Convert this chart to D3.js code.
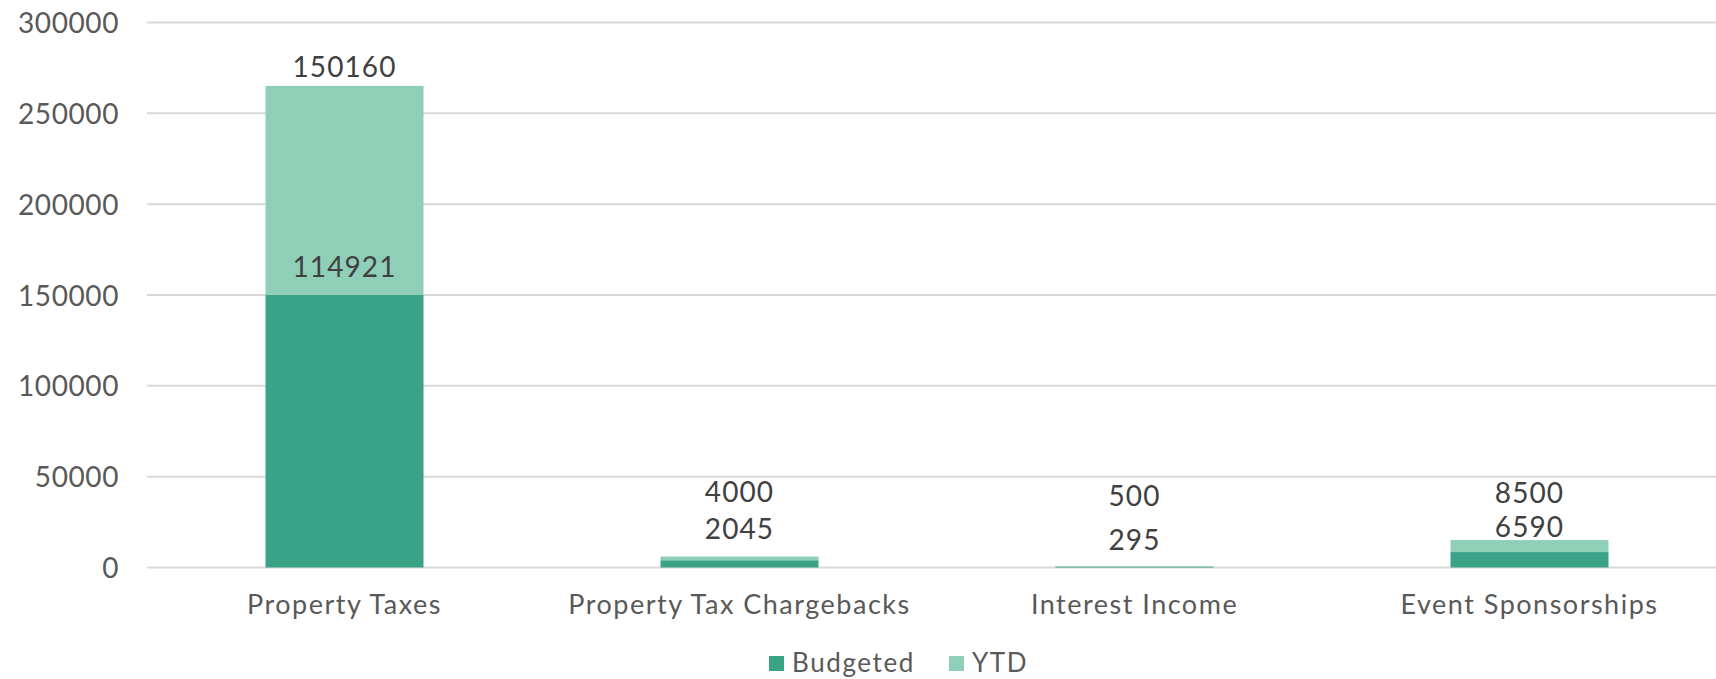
<!DOCTYPE html>
<html>
<head>
<meta charset="utf-8">
<script src="https://cdn.jsdelivr.net/npm/d3@7"></script>
<style>
  html, body { margin: 0; padding: 0; background: #fff; }
  svg { display: block; }
  text { font-family: Lato, "Open Sans", sans-serif; }
</style>
</head>
<body>
<svg id="chart" width="1716" height="679"></svg>
<script>
// ---- data ----
const categories = ["Property Taxes", "Property Tax Chargebacks", "Interest Income", "Event Sponsorships"];
const budgeted = [150160, 4000, 500, 8500];
const ytd = [114921, 2045, 295, 6590];
const seriesNames = ["Budgeted", "YTD"];
const yTicks = [0, 50000, 100000, 150000, 200000, 250000, 300000];

// label placement offsets (px) — layout only
const budLabelDy = [-8.6, -54.8, -60, -36.8];   // relative to stack top
const ytdLabelDy = [-18, -20.9, -16.6, -15.4];  // relative to budgeted top

const colors = { Budgeted: "#3aa385", YTD: "#8fcfb7" };

const svg = d3.select("#chart");
const plotLeft = 147, plotRight = 1727, plotTop = 22.5, plotBottom = 567.5;

const x = d3.scaleBand().domain(categories).range([plotLeft, plotRight]).paddingInner(0.6).paddingOuter(0.3);
const y = d3.scaleLinear().domain([0, 300000]).range([plotBottom, plotTop]);

// gridlines
svg.append("g").selectAll("line").data(yTicks).join("line")
  .attr("x1", plotLeft).attr("x2", plotRight)
  .attr("y1", d => y(d)).attr("y2", d => y(d))
  .attr("stroke", "#d9d9d9").attr("stroke-width", 2);

// y axis labels
const yAxis = d3.axisLeft(y).tickValues(yTicks).tickFormat(d3.format("d")).tickSize(0).tickPadding(0);
const ga = svg.append("g").attr("transform", `translate(119,0)`).call(yAxis);
ga.select(".domain").remove();
ga.selectAll("text").attr("font-family", "Lato, sans-serif").attr("font-size", 28)
  .attr("letter-spacing", 0.6)
  .attr("fill", "#595959").attr("dy", "0.36em");

// stacked data
const rows = categories.map((c, i) => ({ cat: c, Budgeted: budgeted[i], YTD: ytd[i] }));
const stack = d3.stack().keys(seriesNames)(rows);

svg.append("g").selectAll("g").data(stack).join("g")
  .attr("fill", d => colors[d.key])
  .selectAll("rect").data(d => d).join("rect")
  .attr("x", d => x(d.data.cat))
  .attr("width", x.bandwidth())
  .attr("y", d => y(d[1]))
  .attr("height", d => y(d[0]) - y(d[1]));

// data labels
const lab = svg.append("g").attr("font-size", 28).attr("fill", "#404040")
  .attr("text-anchor", "middle").attr("letter-spacing", 1.1);
categories.forEach((c, i) => {
  const cx = x(c) + x.bandwidth() / 2;
  lab.append("text").attr("x", cx).attr("y", y(budgeted[i] + ytd[i]) + budLabelDy[i]).text(budgeted[i]);
  lab.append("text").attr("x", cx).attr("y", y(budgeted[i]) + ytdLabelDy[i]).text(ytd[i]);
});

// x axis labels
const xAxis = d3.axisBottom(x).tickSize(0).tickPadding(0);
const gx = svg.append("g").attr("transform", `translate(0,${plotBottom})`).call(xAxis);
gx.select(".domain").remove();
gx.selectAll("text").attr("font-family", "Lato, sans-serif").attr("font-size", 27)
  .attr("letter-spacing", 1.5)
  .attr("fill", "#595959").attr("dy", null).attr("y", 46);

// legend
const legend = svg.append("g").attr("font-size", 26).attr("fill", "#595959").attr("letter-spacing", 1.6);
const legX = [769, 949];
seriesNames.forEach((s, i) => {
  legend.append("rect").attr("x", legX[i]).attr("y", 656).attr("width", 15).attr("height", 15).attr("fill", colors[s]);
  legend.append("text").attr("x", legX[i] + 23).attr("y", 672).text(s);
});
</script>
</body>
</html>
